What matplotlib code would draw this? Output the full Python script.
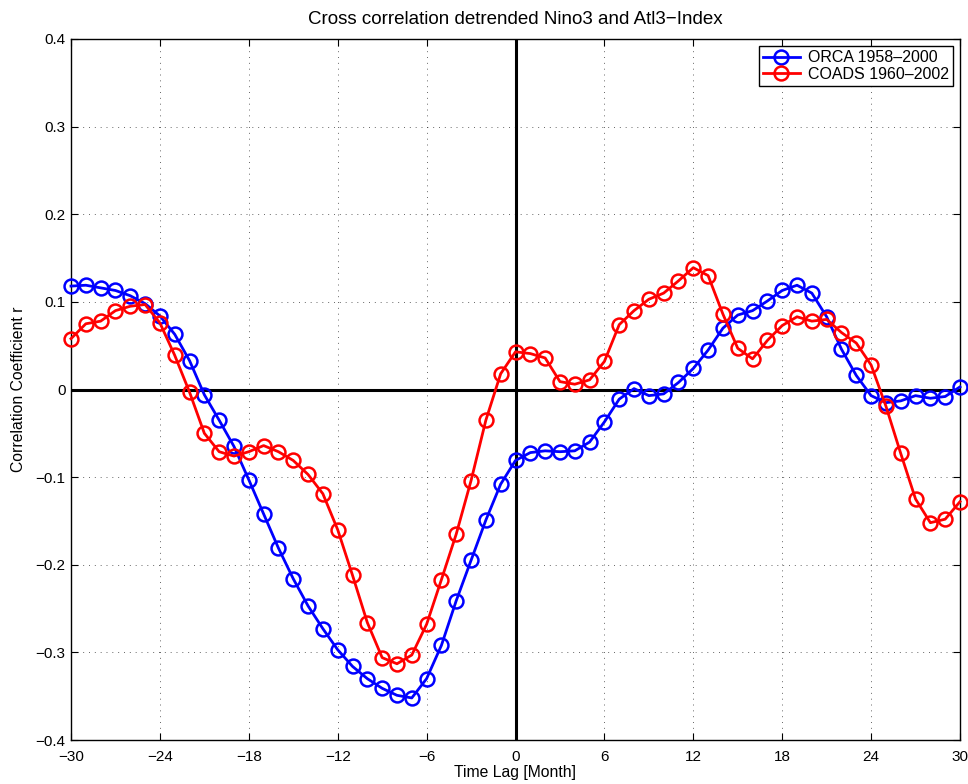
import numpy as np
import matplotlib
matplotlib.use("Agg")
import matplotlib.pyplot as plt

lags = list(range(-30, 31))

orca = [0.118, 0.119, 0.116, 0.113, 0.107, 0.098, 0.084, 0.063, 0.033, -0.006,
        -0.035, -0.065, -0.103, -0.142, -0.181, -0.216, -0.247, -0.273, -0.297, -0.316,
        -0.330, -0.341, -0.349, -0.352, -0.330, -0.292, -0.241, -0.195, -0.149, -0.108,
        -0.081, -0.072, -0.070, -0.071, -0.070, -0.060, -0.037, -0.011, 0.001, -0.007,
        -0.005, 0.008, 0.024, 0.045, 0.070, 0.085, 0.090, 0.101, 0.113, 0.119,
        0.110, 0.083, 0.046, 0.016, -0.007, -0.015, -0.013, -0.007, -0.010, -0.008,
        0.003]

coads = [0.058, 0.075, 0.078, 0.090, 0.095, 0.097, 0.076, 0.039, -0.003, -0.050,
         -0.071, -0.076, -0.071, -0.064, -0.071, -0.081, -0.097, -0.119, -0.160, -0.212,
         -0.266, -0.306, -0.313, -0.303, -0.268, -0.217, -0.165, -0.104, -0.035, 0.018,
         0.043, 0.041, 0.036, 0.009, 0.006, 0.011, 0.032, 0.074, 0.090, 0.103,
         0.110, 0.124, 0.139, 0.130, 0.086, 0.047, 0.035, 0.056, 0.073, 0.083,
         0.078, 0.080, 0.065, 0.053, 0.028, -0.019, -0.073, -0.125, -0.152, -0.148,
         -0.128]

xticks = [-30, -24, -18, -12, -6, 0, 6, 12, 18, 24, 30]
yticks = [-0.4, -0.3, -0.2, -0.1, 0, 0.1, 0.2, 0.3, 0.4]
ytick_labels = ["\u22120.4", "\u22120.3", "\u22120.2", "\u22120.1", "0", "0.1", "0.2", "0.3", "0.4"]
xtick_labels = ["\u221230", "\u221224", "\u221218", "\u221212", "\u22126", "0", "6", "12", "18", "24", "30"]

plt.rcParams['font.family'] = ['Liberation Sans', 'DejaVu Sans']
fig = plt.figure(figsize=(9.68, 7.84), dpi=100)
ax = fig.add_axes([71/968, 44/784, 889/968, 701/784])

ax.axhline(0, color='black', lw=2.2, zorder=2)
ax.axvline(0, color='black', lw=2.2, zorder=2)

ax.plot(lags, orca, color='blue', lw=2, marker='o', markersize=10,
        markerfacecolor='none', markeredgewidth=1.8, label='ORCA 1958\u20132000',
        zorder=3, clip_on=False)
ax.plot(lags, coads, color='red', lw=2, marker='o', markersize=10,
        markerfacecolor='none', markeredgewidth=1.8, label='COADS 1960\u20132002',
        zorder=3, clip_on=False)

ax.set_xlim(-30, 30)
ax.set_ylim(-0.4, 0.4)
ax.set_xticks(xticks)
ax.set_xticklabels(xtick_labels)
ax.set_yticks(yticks)
ax.set_yticklabels(ytick_labels)
ax.tick_params(direction='in', length=5, labelsize=11, top=True, right=True)
ax.tick_params(axis='x', pad=7)
ax.tick_params(axis='y', pad=4)
ax.grid(True, linestyle=(0, (1, 5)), color='black', lw=0.7, alpha=0.6)
for s in ax.spines.values():
    s.set_linewidth(1.0)

ax.set_title('Cross correlation detrended Nino3 and Atl3\u2212Index', fontsize=13.5, pad=11)
ax.set_xlabel('Time Lag [Month]', fontsize=11.3, labelpad=1)
ax.set_ylabel('Correlation Coefficient r', fontsize=11.3, labelpad=7)

leg = ax.legend(loc='upper right', fontsize=11.5, fancybox=False, framealpha=1,
                edgecolor='black', borderaxespad=0.45, handlelength=2.3,
                handletextpad=0.5, borderpad=0.25, labelspacing=0.1)
leg.get_frame().set_linewidth(1.0)

fig.savefig('out.png', dpi=100)
